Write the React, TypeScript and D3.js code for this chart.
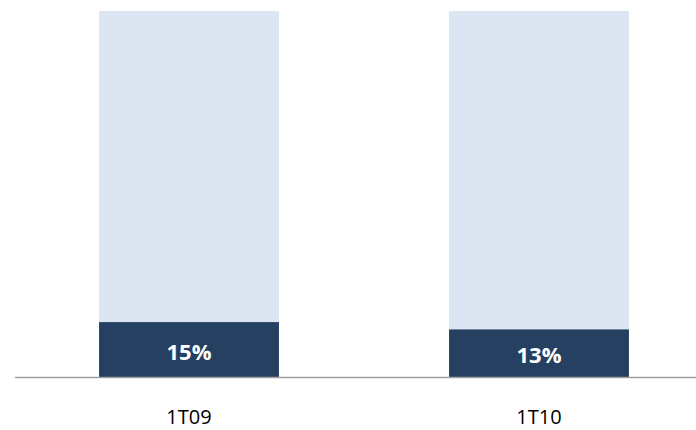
import React from "react";
import * as d3 from "d3";

const categories = ["1T09", "1T10"];
const shareValues = [0.15, 0.13];
const totalValues = [1, 1];
const shareLabels = ["15%", "13%"];

const W = 696;
const H = 430;

export default function App() {
  const x = d3
    .scaleBand<string>()
    .domain(categories)
    .range([14, 714])
    .paddingInner(0.486)
    .paddingOuter(0.243);
  const y = d3.scaleLinear().domain([0, 1]).range([377, 11]);
  const bw = x.bandwidth();

  return (
    <svg
      width={W}
      height={H}
      style={{ position: "absolute", left: 0, top: 0, background: "#fff" }}
      fontFamily="'Open Sans', 'Noto Sans', sans-serif"
    >
      {categories.map((c, i) => (
        <g key={c}>
          <rect
            x={x(c)!}
            y={y(totalValues[i])}
            width={bw}
            height={y(0) - y(totalValues[i])}
            fill="#DCE6F2"
          />
          <rect
            x={x(c)!}
            y={y(shareValues[i])}
            width={bw}
            height={y(0) - y(shareValues[i])}
            fill="#254061"
          />
          <text
            x={x(c)! + bw / 2}
            y={(y(shareValues[i]) + y(0)) / 2 + 10}
            textAnchor="middle"
            fill="#fff"
            fontWeight="bold"
            fontSize={22}
          >
            {shareLabels[i]}
          </text>
          <text
            x={x(c)! + bw / 2}
            y={424}
            textAnchor="middle"
            fill="#000"
            fontSize={20}
          >
            {c}
          </text>
        </g>
      ))}
      <line x1={15} x2={696} y1={377.5} y2={377.5} stroke="#A0A0A0" strokeWidth={1.5} />
    </svg>
  );
}
